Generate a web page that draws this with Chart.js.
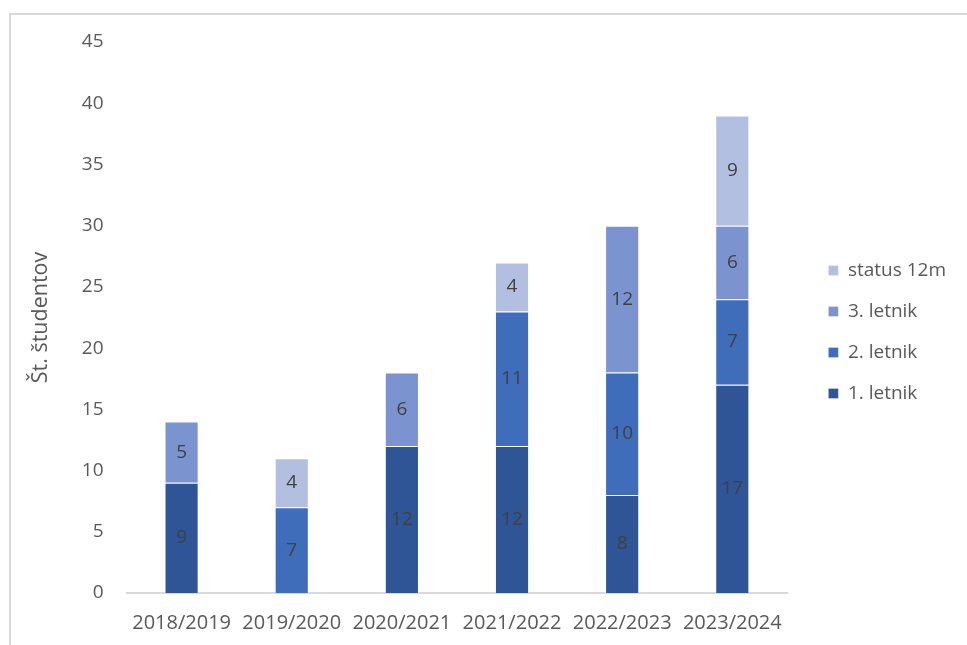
<!DOCTYPE html>
<html>
<head>
<meta charset="utf-8">
<script src="https://cdn.jsdelivr.net/npm/chart.js@4.4.1/dist/chart.umd.min.js"></script>
<style>
    body { margin: 0; background: #fff; overflow: hidden; }
    #frame { position: absolute; left: 9px; top: 13px; width: 1000px; height: 700px; border: 2px solid #d9d9d9; }
    #wrap { position: absolute; left: 0; top: 0; width: 967px; height: 645px; }
</style>
</head>
<body>
<div id="frame"></div>
<div id="wrap"><canvas id="studentChart"></canvas></div>
<script>
// Podatki
const years = ['2018/2019', '2019/2020', '2020/2021', '2021/2022', '2022/2023', '2023/2024'];
const letnik1 = [9, 0, 12, 12, 8, 17];
const letnik2 = [0, 7, 0, 11, 10, 7];
const letnik3 = [5, 0, 6, 0, 12, 6];
const status12m = [0, 4, 0, 4, 0, 9];
const yTicks = [0, 5, 10, 15, 20, 25, 30, 35, 40, 45];

const FONT = "'Open Sans', sans-serif";
const TEXT = '#595959';

// izpis vrednosti na sredini stolpca
const valueLabels = {
    id: 'valueLabels',
    afterDatasetsDraw(chart) {
        const ctx = chart.ctx;
        ctx.save();
        ctx.font = '19px ' + FONT;
        ctx.fillStyle = '#404040';
        ctx.textAlign = 'center';
        ctx.textBaseline = 'middle';
        chart.data.datasets.forEach(function (ds, i) {
            chart.getDatasetMeta(i).data.forEach(function (bar, j) {
                const v = ds.data[j];
                if (!v) return;
                const c = bar.getCenterPoint();
                ctx.fillText(v, c.x, c.y);
            });
        });
        ctx.restore();
    }
};

// legendo malo dvignemo
const legendShift = {
    id: 'legendShift',
    afterLayout(chart) {
        if (chart.legend) chart.legend.bottom -= 23;
    }
};

const ctx = document.getElementById('studentChart').getContext('2d');

new Chart(ctx, {
    type: 'bar',
    data: {
        labels: years,
        datasets: [
            { label: '1. letnik', data: letnik1, backgroundColor: '#2F5597' },
            { label: '2. letnik', data: letnik2, backgroundColor: '#3F6DBA' },
            { label: '3. letnik', data: letnik3, backgroundColor: '#7B93CF' },
            { label: 'status 12m', data: status12m, backgroundColor: '#B3BFE0' }
        ].map(function (d) {
            return Object.assign(d, {
                borderColor: 'rgba(255,255,255,0.3)',
                borderWidth: 1,
                barPercentage: 0.31,
                categoryPercentage: 1
            });
        })
    },
    options: {
        responsive: true,
        maintainAspectRatio: false,
        animation: false,
        layout: { padding: { left: 24, top: 42, right: 11, bottom: 0 } },
        plugins: {
            legend: {
                position: 'right',
                reverse: true,
                labels: {
                    color: TEXT,
                    font: { family: FONT, size: 19 },
                    boxWidth: 10,
                    boxHeight: 10,
                    padding: 22
                }
            },
            tooltip: { enabled: false }
        },
        scales: {
            x: {
                stacked: true,
                grid: { display: false },
                border: { display: true, color: '#d9d9d9', width: 2 },
                ticks: { color: TEXT, font: { family: FONT, size: 20 }, padding: 10, maxRotation: 0 }
            },
            y: {
                stacked: true,
                min: 0,
                max: 45,
                afterBuildTicks: function (axis) {
                    axis.ticks = yTicks.map(function (v) { return { value: v }; });
                },
                grid: { display: false },
                border: { display: false },
                title: {
                    display: true,
                    text: 'Št. študentov',
                    color: TEXT,
                    font: { family: FONT, size: 21.5 },
                    padding: { bottom: 13 }
                },
                ticks: { color: TEXT, font: { family: FONT, size: 19 }, padding: 15 }
            },
            // prazen prostor med grafom in legendo
            spacer: {
                type: 'linear',
                position: 'right',
                grid: { display: false },
                border: { display: false },
                ticks: { display: false },
                afterFit: function (axis) { axis.width = 19; }
            }
        }
    },
    plugins: [valueLabels, legendShift]
});
</script>
</body>
</html>
